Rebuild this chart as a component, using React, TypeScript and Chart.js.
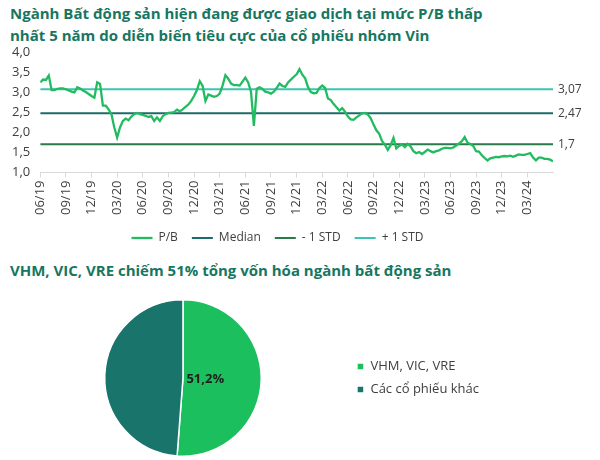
import React, { useEffect, useRef } from "react";
import { Chart, registerables } from "chart.js";

Chart.register(...registerables);

const FONT = "'Open Sans', 'Noto Sans', sans-serif";
const TEXT_COLOR = "#404040";
const TITLE_COLOR = "#17765F";

const titleLine1 = "Ngành Bất động sản hiện đang được giao dịch tại mức P/B thấp";
const titleLine2 = "nhất 5 năm do diễn biến tiêu cực của cổ phiếu nhóm Vin";
const title2 = "VHM, VIC, VRE chiếm 51% tổng vốn hóa ngành bất động sản";

// Quarterly tick labels (x axis)
const xTickLabels = [
  "06/19", "09/19", "12/19", "03/20", "06/20", "09/20", "12/20", "03/21",
  "06/21", "09/21", "12/21", "03/22", "06/22", "09/22", "12/22", "03/23",
  "06/23", "09/23", "12/23", "03/24",
];
const pointsPerQuarter = 9;

// P/B series (roughly three readings per month, 06/2019 - 06/2024)
const pbValues = [
  3.24, 3.31, 3.30, 3.41, 3.05, 3.05, 3.08, 3.09, 3.09, 3.07,
  3.04, 3.01, 2.99, 3.12, 3.09, 3.04, 3.00, 2.95, 2.90, 2.86,
  3.24, 3.20, 2.66, 2.66, 2.57, 2.45, 2.12, 1.87, 2.12, 2.28,
  2.34, 2.30, 2.39, 2.45, 2.48, 2.45, 2.43, 2.41, 2.38, 2.40,
  2.28, 2.37, 2.28, 2.40, 2.45, 2.48, 2.49, 2.50, 2.56, 2.52,
  2.57, 2.63, 2.69, 2.78, 2.90, 3.05, 3.27, 3.15, 2.78, 2.94,
  2.91, 2.88, 2.90, 2.96, 3.16, 3.42, 3.33, 3.21, 3.17, 3.17,
  3.16, 3.26, 3.36, 3.24, 3.00, 2.16, 3.08, 3.12, 3.08, 3.01,
  2.99, 2.96, 3.01, 3.10, 3.21, 3.15, 3.13, 3.24, 3.31, 3.38,
  3.44, 3.57, 3.43, 3.34, 3.12, 3.00, 2.97, 2.98, 3.10, 3.16,
  3.10, 2.84, 2.80, 2.70, 2.62, 2.54, 2.60, 2.51, 2.39, 2.32,
  2.31, 2.37, 2.42, 2.47, 2.48, 2.44, 2.35, 2.19, 2.05, 1.96,
  1.78, 1.69, 1.56, 1.68, 1.86, 1.60, 1.66, 1.70, 1.63, 1.71,
  1.65, 1.53, 1.48, 1.51, 1.46, 1.51, 1.57, 1.53, 1.50, 1.53,
  1.55, 1.59, 1.61, 1.61, 1.60, 1.62, 1.67, 1.72, 1.78, 1.88,
  1.74, 1.71, 1.66, 1.53, 1.52, 1.43, 1.36, 1.30, 1.35, 1.37,
  1.39, 1.38, 1.40, 1.41, 1.40, 1.42, 1.39, 1.42, 1.45, 1.44,
  1.44, 1.46, 1.48, 1.37, 1.30, 1.37, 1.37, 1.34, 1.34, 1.32,
  1.28,
];

const medianValue = 2.47;
const minusStdValue = 1.7;
const plusStdValue = 3.07;

const seriesNames = ["P/B", "Median", "- 1 STD", "+ 1 STD"];
const seriesColors = ["#22BB5F", "#1C6B69", "#2A7A4C", "#3CC4B2"];

const yMin = 1;
const yMax = 4;
const yStep = 0.5;

// Pie
const pieLabels = ["VHM, VIC, VRE", "Các cổ phiếu khác"];
const pieValues = [51.2, 48.8];
const pieColors = ["#1CBF5E", "#19756C"];

const fmtComma = (v: number, digits?: number) =>
  (digits === undefined ? String(v) : v.toFixed(digits)).replace(".", ",");

const refLabelPlugin = {
  id: "refLabels",
  afterDatasetsDraw(chart: any) {
    const { ctx, chartArea, scales } = chart;
    ctx.save();
    ctx.font = `12px ${FONT}`;
    ctx.fillStyle = TEXT_COLOR;
    ctx.textBaseline = "middle";
    ctx.textAlign = "left";
    [plusStdValue, medianValue, minusStdValue].forEach((v) => {
      ctx.fillText(fmtComma(v), chartArea.right + 5, scales.y.getPixelForValue(v));
    });
    ctx.restore();
  },
};

const pieLabelPlugin = {
  id: "pieLabel",
  afterDatasetsDraw(chart: any) {
    const meta = chart.getDatasetMeta(0);
    const arc = meta.data[0];
    if (!arc) return;
    const { x, y, outerRadius } = arc.getProps(["x", "y", "outerRadius"], true);
    const { ctx } = chart;
    ctx.save();
    ctx.font = `bold 13px ${FONT}`;
    ctx.fillStyle = "#1F1F1F";
    ctx.textAlign = "center";
    ctx.textBaseline = "middle";
    ctx.fillText(fmtComma(pieValues[0], 1) + "%", x + outerRadius * 0.285, y + 1.5);
    ctx.restore();
  },
};

function LineChart() {
  const ref = useRef<HTMLCanvasElement | null>(null);
  useEffect(() => {
    if (!ref.current) return;
    const last = pbValues.length - 1;
    const flat = (v: number) => [
      { x: 0, y: v },
      { x: last, y: v },
    ];
    const chart = new Chart(ref.current, {
      type: "line",
      data: {
        datasets: [
          {
            label: seriesNames[0],
            data: pbValues.map((v, i) => ({ x: i, y: v })),
            borderColor: seriesColors[0],
            backgroundColor: seriesColors[0],
            borderWidth: 2.3,
            pointRadius: 0,
            tension: 0,
          },
          {
            label: seriesNames[1],
            data: flat(medianValue),
            borderColor: seriesColors[1],
            backgroundColor: seriesColors[1],
            borderWidth: 2,
            pointRadius: 0,
          },
          {
            label: seriesNames[2],
            data: flat(minusStdValue),
            borderColor: seriesColors[2],
            backgroundColor: seriesColors[2],
            borderWidth: 2,
            pointRadius: 0,
          },
          {
            label: seriesNames[3],
            data: flat(plusStdValue),
            borderColor: seriesColors[3],
            backgroundColor: seriesColors[3],
            borderWidth: 2,
            pointRadius: 0,
          },
        ],
      },
      options: {
        responsive: false,
        animation: false,
        layout: { padding: { left: 2, right: 47, top: 0, bottom: 0 } },
        plugins: {
          legend: {
            position: "bottom",
            labels: {
              usePointStyle: true,
              pointStyle: "line",
              pointStyleWidth: 21,
              font: { family: FONT, size: 12 },
              color: TEXT_COLOR,
              padding: 14,
            },
          },
          tooltip: { enabled: false },
        },
        scales: {
          x: {
            type: "linear",
            min: 0,
            max: last,
            grid: {
              display: true,
              drawOnChartArea: false,
              tickLength: 5,
              color: "#D9D9D9",
            },
            border: { color: "#D9D9D9" },
            afterBuildTicks: (scale: any) => {
              scale.ticks = xTickLabels.map((_, i) => ({ value: i * pointsPerQuarter }));
            },
            ticks: {
              autoSkip: false,
              minRotation: 90,
              maxRotation: 90,
              padding: 3,
              font: { family: FONT, size: 13 },
              color: TEXT_COLOR,
              callback: (v: any) => {
                const idx = Math.round(Number(v) / pointsPerQuarter);
                return xTickLabels[idx] ?? "";
              },
            },
          },
          y: {
            min: yMin,
            max: yMax,
            grid: { display: false, drawTicks: false },
            border: { display: false },
            ticks: {
              stepSize: yStep,
              padding: 10,
              font: { family: FONT, size: 13 },
              color: TEXT_COLOR,
              callback: (v: any) => fmtComma(Number(v), 1),
            },
          },
        },
      } as any,
      plugins: [refLabelPlugin],
    });
    return () => chart.destroy();
  }, []);
  return (
    <canvas
      ref={ref}
      width={600}
      height={220}
      style={{ position: "absolute", left: 0, top: 33.5, width: 600, height: 220 }}
    />
  );
}

function PieChart() {
  const ref = useRef<HTMLCanvasElement | null>(null);
  useEffect(() => {
    if (!ref.current) return;
    const chart = new Chart(ref.current, {
      type: "pie",
      data: {
        labels: pieLabels,
        datasets: [
          {
            data: pieValues,
            backgroundColor: pieColors,
            borderColor: "#FFFFFF",
            borderWidth: 1.5,
          },
        ],
      },
      options: {
        responsive: false,
        animation: false,
        layout: { padding: { left: 19, right: 111, top: 9, bottom: 3 } },
        plugins: {
          legend: {
            position: "right",
            labels: {
              boxWidth: 7,
              boxHeight: 7,
              font: { family: FONT, size: 13 },
              color: TEXT_COLOR,
              padding: 10,
            },
          },
          tooltip: { enabled: false },
        },
      } as any,
      plugins: [pieLabelPlugin],
    });
    return () => chart.destroy();
  }, []);
  return (
    <canvas
      ref={ref}
      width={600}
      height={170}
      style={{ position: "absolute", left: 0, top: 290, width: 600, height: 170 }}
    />
  );
}

export default function App() {
  const titleStyle: React.CSSProperties = {
    position: "absolute",
    left: 10,
    margin: 0,
    fontFamily: FONT,
    fontWeight: 700,
    fontSize: 15,
    lineHeight: "22px",
    color: TITLE_COLOR,
    whiteSpace: "nowrap",
  };
  return (
    <div
      style={{
        position: "absolute",
        left: 0,
        top: 0,
        width: 600,
        height: 460,
        background: "#FFFFFF",
        overflow: "hidden",
      }}
    >
      <div style={{ ...titleStyle, top: 2 }}>
        {titleLine1}
        <br />
        {titleLine2}
      </div>
      <div style={{ ...titleStyle, top: 259 }}>{title2}</div>
      <LineChart />
      <PieChart />
    </div>
  );
}
